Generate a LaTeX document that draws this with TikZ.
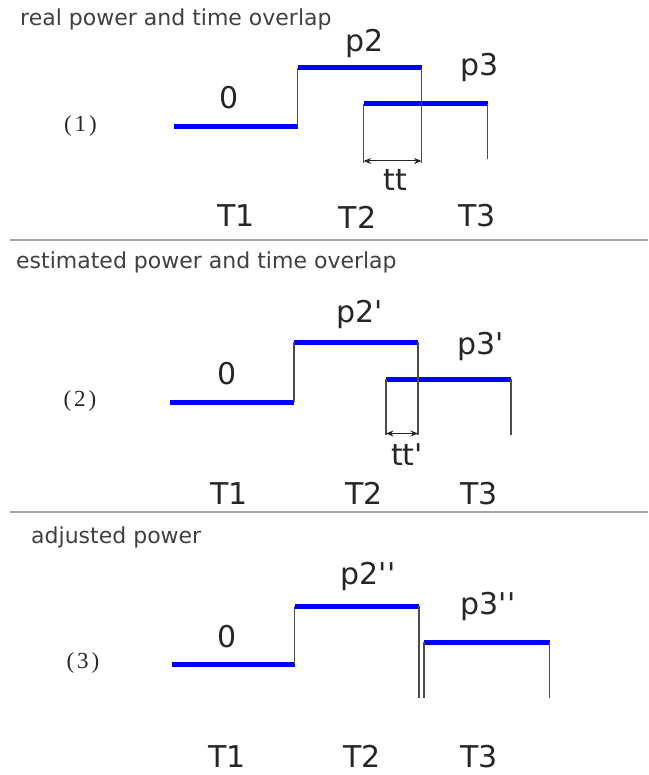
\documentclass[tikz,border=0pt]{standalone}
\usepackage{fontspec}
\setmainfont{DejaVu Sans}
\newfontfamily\serifnum{Liberation Serif}
\usetikzlibrary{arrows.meta}
\newcommand{\pr}{\textquotesingle}
\begin{document}
\begin{tikzpicture}[x=1pt,y=-1pt,
 title/.style={anchor=base west, inner sep=0pt, font=\fontsize{22}{24}\selectfont, text=black!75},
 lab/.style={anchor=base, inner sep=0pt, font=\fontsize{30}{32}\selectfont, text=black!85},
 num/.style={anchor=center, inner sep=0pt, font=\serifnum\fontsize{23}{26}\selectfont, text=black!85},
 power/.style={draw=blue, line width=5pt},
 edge/.style={draw=black!70, line width=1.3pt},
 sep/.style={draw=black!35, line width=2pt},
 span/.style={draw=black!85, line width=1pt, {Stealth[length=7.5pt,width=6pt]}-{Stealth[length=7.5pt,width=6pt]}}
]
\useasboundingbox (0,0) rectangle (648,775);
\fill[white] (0,0) rectangle (648,775);

% separators
\coordinate (s1a) at (10,240); \coordinate (s1b) at (648,240);
\coordinate (s2a) at (10,512); \coordinate (s2b) at (648,512);
\draw[sep] (s1a) -- (s1b);
\draw[sep] (s2a) -- (s2b);

% ---------- panel 1 ----------
\node[title] (h1) at (20,26) {real power and time overlap};
\node[num] (n1) at (80.5,126) {(\kern3pt1\kern3pt)};
\coordinate (a0) at (174,127); \coordinate (a1) at (297.5,127);
\coordinate (a2) at (297.5,68); \coordinate (a3) at (421.5,68);
\coordinate (a4) at (421.5,163);
\coordinate (b0) at (363.6,163); \coordinate (b1) at (363.6,104);
\coordinate (b2) at (487.6,104); \coordinate (b3) at (487.6,159);
\coordinate (c0) at (363.6,161); \coordinate (c1) at (421.5,161);
\draw[power] (a0) -- (a1);
\draw[power] (a2) -- (a3);
\draw[power] (b1) -- (b2);
\draw[edge] (a1) -- (a2);
\draw[edge] (a3) -- (a4);
\draw[edge] (b0) -- (b1);
\draw[edge] (b2) -- (b3);
\draw[span] (c0) -- (c1);
\node[lab] (z1) at (229,109) {0};
\node[lab] (p21) at (365,51.5) {p2};
\node[lab] (p31) at (480,76) {p3};
\node[lab] (tt1) at (395,191) {tt};
\node[lab] (T11) at (236,226.5) {T1};
\node[lab] (T21) at (357.5,228.5) {T2};
\node[lab] (T31) at (477,226.5) {T3};

% ---------- panel 2 ----------
\node[title] (h2) at (16,268.5) {estimated power and time overlap};
\node[num] (n2) at (80,401) {(\kern3pt2\kern3pt)};
\coordinate (d0) at (169.5,402); \coordinate (d1) at (294,402);
\coordinate (d2) at (294,342); \coordinate (d3) at (418,342);
\coordinate (d4) at (418,435);
\coordinate (e0) at (386,435); \coordinate (e1) at (386,379);
\coordinate (e2) at (511,379); \coordinate (e3) at (511,435);
\coordinate (f0) at (386,433.5); \coordinate (f1) at (418,433.5);
\draw[power] (d0) -- (d1);
\draw[power] (d2) -- (d3);
\draw[power] (e1) -- (e2);
\draw[edge] (d1) -- (d2);
\draw[edge] (d3) -- (d4);
\draw[edge] (e0) -- (e1);
\draw[edge] (e2) -- (e3);
\draw[span] (f0) -- (f1);
\node[lab] (z2) at (227,384) {0};
\node[lab] (p22) at (360,322) {p2\pr};
\node[lab] (p32) at (481,354) {p3\pr};
\node[lab] (tt2) at (407,465) {tt\pr};
\node[lab] (T12) at (229,504) {T1};
\node[lab] (T22) at (364,504) {T2};
\node[lab] (T32) at (479,504) {T3};

% ---------- panel 3 ----------
\node[title] (h3) at (31,543.5) {adjusted power};
\node[num] (n3) at (83,663) {(\kern3pt3\kern3pt)};
\coordinate (g0) at (171.5,664); \coordinate (g1) at (294.6,664);
\coordinate (g2) at (294.6,606); \coordinate (g3) at (419,606);
\coordinate (g4) at (419,698);
\coordinate (k0) at (424,698); \coordinate (k1) at (424,642);
\coordinate (k2) at (549.6,642); \coordinate (k3) at (549.6,698);
\draw[power] (g0) -- (g1);
\draw[power] (g2) -- (g3);
\draw[power] (k1) -- (k2);
\draw[edge] (g1) -- (g2);
\draw[edge] (g3) -- (g4);
\draw[edge] (k0) -- (k1);
\draw[edge] (k2) -- (k3);
\node[lab] (z3) at (227,647.5) {0};
\node[lab] (p23) at (368,584) {p2\pr\pr};
\node[lab] (p33) at (488,614) {p3\pr\pr};
\node[lab] (T13) at (227,767) {T1};
\node[lab] (T23) at (362,767) {T2};
\node[lab] (T33) at (479,767) {T3};
\end{tikzpicture}
\end{document}
